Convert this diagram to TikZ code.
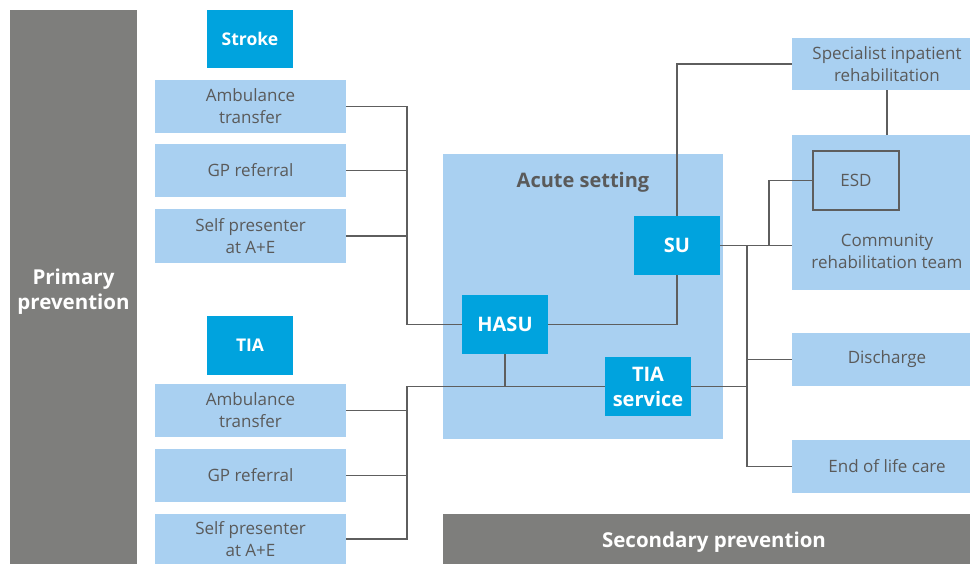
\documentclass[tikz,border=0pt]{standalone}
\usepackage{fontspec}
\setmainfont{Open Sans}
\definecolor{dblue}{HTML}{00A3DE}
\definecolor{lblue}{HTML}{A9D0F1}
\definecolor{mgray}{HTML}{7E7E7C}
\definecolor{tgray}{HTML}{5A5A5A}
\definecolor{lgray}{HTML}{5E5E5E}
\tikzset{
  lbox/.style={fill=lblue, inner sep=0pt, align=center, text=tgray, font=\fontsize{17}{22}\selectfont},
  dbox/.style={fill=dblue, inner sep=0pt, align=center, text=white, font=\bfseries\fontsize{17.5}{24}\selectfont},
  dboxl/.style={dbox, font=\bfseries\fontsize{20}{25}\selectfont},
  gbox/.style={fill=mgray, inner sep=0pt},
  gtext/.style={inner sep=0pt, align=center, text=white, font=\bfseries\fontsize{20.5}{25}\selectfont},
  conn/.style={draw=lgray, line width=1.3pt}
}
\begin{document}
\begin{tikzpicture}[x=1pt,y=-1pt]
\useasboundingbox (0,0) rectangle (970,564);
% left column
\node[gbox, minimum width=127pt, minimum height=554pt] (pp) at (73.5,287) {};
\node[gtext] (ppt) at (73.5,292) {Primary\\prevention};
\node[dbox, minimum width=86pt, minimum height=58pt] (stroke) at (250,39) {Stroke};
\node[lbox, minimum width=191pt, minimum height=53pt] (amb1) at (250.5,106.5) {Ambulance\\transfer};
\node[lbox, minimum width=191pt, minimum height=53pt] (gp1) at (250.5,170.5) {GP referral};
\node[lbox, minimum width=191pt, minimum height=54pt] (self1) at (250.5,236) {Self presenter\\at A+E};
\node[dbox, minimum width=86pt, minimum height=59pt] (tia) at (250,345.5) {TIA};
\node[lbox, minimum width=191pt, minimum height=53pt] (amb2) at (250.5,410.5) {Ambulance\\transfer};
\node[lbox, minimum width=191pt, minimum height=53pt] (gp2) at (250.5,475.5) {GP referral};
\node[lbox, minimum width=191pt, minimum height=50pt] (self2) at (250.5,539) {Self presenter\\at A+E};
% acute setting
\node[lbox, minimum width=280pt, minimum height=285pt] (acute) at (583,296.5) {};
\node[text=tgray, font=\bfseries\fontsize{20}{24}\selectfont, inner sep=0pt] (acutet) at (583,182) {Acute setting};
\node[dboxl, minimum width=86pt, minimum height=59pt] (su) at (677,245.5) {SU};
\node[dboxl, minimum width=86pt, minimum height=59pt] (hasu) at (505,324.5) {HASU};
\node[dboxl, minimum width=86pt, minimum height=59pt] (tias) at (648,386.5) {TIA\\service};
% right column
\node[lbox, minimum width=190pt, minimum height=52pt] (spec) at (887,64) {Specialist inpatient\\rehabilitation};
\node[lbox, minimum width=190pt, minimum height=155pt] (com) at (887,212.5) {};
\node[draw=lgray, line width=1.3pt, fill=lblue, minimum width=86pt, minimum height=59pt, inner sep=0pt, text=tgray, font=\fontsize{17}{22}\selectfont] (esd) at (856,180.5) {ESD};
\node[text=tgray, align=center, inner sep=0pt, font=\fontsize{17}{22}\selectfont] (comt) at (887,251) {Community\\rehabilitation team};
\node[lbox, minimum width=190pt, minimum height=53pt] (dis) at (887,359.5) {Discharge};
\node[lbox, minimum width=190pt, minimum height=53pt] (eol) at (887,466.5) {End of life care};
\node[gbox, minimum width=539pt, minimum height=50pt] (sp) at (712.5,539) {};
\node[gtext] (spt) at (714,542) {Secondary prevention};
% helper coordinates
\coordinate (sx) at (407,0);
\coordinate (rx) at (747,0);
\coordinate (ex) at (769,0);
% stroke connectors
\draw[conn] (amb1.east) -| (sx |- hasu.west) -- (hasu.west);
\draw[conn] (gp1.east) -- (gp1.east -| sx);
\draw[conn] (self1.east) -- (self1.east -| sx);
% TIA connectors
\draw[conn] (tias.west) -| (sx |- self2.east) -- (self2.east);
\draw[conn] (amb2.east) -- (amb2.east -| sx);
\draw[conn] (gp2.east) -- (gp2.east -| sx);
\draw[conn] (hasu.south) -- (hasu.south |- tias.west);
% acute internal
\draw[conn] (hasu.east) -| (su.south);
\draw[conn] (su.north) |- (spec.west);
% right side
\draw[conn] (su.east) -- (su.east -| com.west);
\draw[conn] (rx |- su.east) -- (rx |- eol.west) -- (eol.west);
\draw[conn] (tias.east) -- (tias.east -| rx);
\draw[conn] (rx |- dis.west) -- (dis.west);
\draw[conn] (ex |- su.east) |- (esd.west);
\draw[conn] (spec.south) -- (com.north);
\end{tikzpicture}
\end{document}
